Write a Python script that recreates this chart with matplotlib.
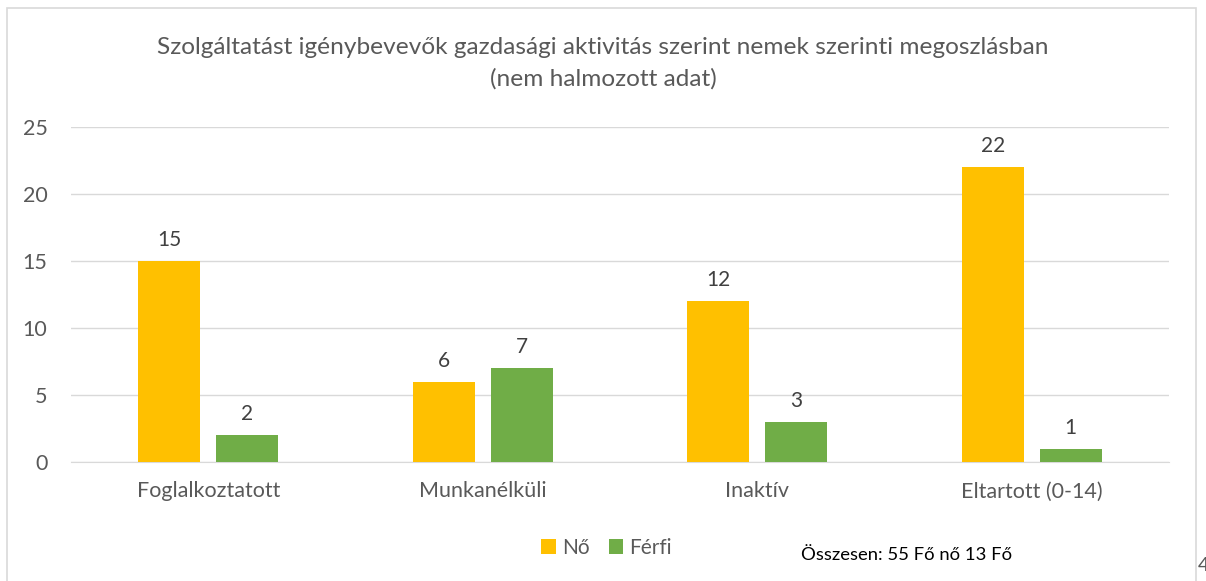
import numpy as np
import matplotlib.pyplot as plt
from matplotlib.patches import Rectangle

categories = ['Foglalkoztatott', 'Munkanélküli', 'Inaktív', 'Eltartott (0-14)']
no_vals = [15, 6, 12, 22]
ferfi_vals = [2, 7, 3, 1]
yticks = [0, 5, 10, 15, 20, 25]

plt.rcParams['font.family'] = ['Lato', 'DejaVu Sans']
txt = '#595959'

fig = plt.figure(figsize=(12.06, 5.81), dpi=100)
ax = fig.add_axes([0.0589, 0.2048, 0.9104, 0.5766])

x = np.arange(len(categories))
w = 0.226
off = 0.142
b1 = ax.bar(x - off, no_vals, w, color='#FFC000', label='Nő', zorder=3)
b2 = ax.bar(x + off, ferfi_vals, w, color='#70AD47', label='Férfi', zorder=3)
for bars in (b1, b2):
    for b in bars:
        ax.text(b.get_x() + b.get_width() / 2, b.get_height() + 0.8, str(int(b.get_height())),
                ha='center', va='bottom', fontsize=15, color='#404040')

ax.set_xlim(-0.5, 3.5)
ax.set_ylim(0, 25)
ax.set_yticks(yticks)
ax.set_xticks(x)
ax.set_xticklabels(categories)
ax.grid(axis='y', color='#D9D9D9', linewidth=1, zorder=0)
for s in ['top', 'right', 'left']:
    ax.spines[s].set_visible(False)
ax.spines['bottom'].set_color('#D9D9D9')
ax.tick_params(axis='both', length=0, labelsize=15.5, colors=txt)
ax.tick_params(axis='x', pad=14)
ax.tick_params(axis='y', pad=17)

fig.text(0.5, 0.918, 'Szolgáltatást igénybevevők gazdasági aktivitás szerint nemek szerinti megoszlásban',
         ha='center', va='center', fontsize=17.6, color=txt)
fig.text(0.5, 0.864, '(nem halmozott adat)', ha='center', va='center', fontsize=17.6, color=txt)

fig.legend(loc='center', bbox_to_anchor=(0.503, 0.057), ncol=2, frameon=False, fontsize=15,
           handlelength=0.7, handleheight=0.7, handletextpad=0.3, columnspacing=0.9,
           labelcolor=txt)

fig.text(0.664, 0.044, 'Összesen: 55 Fő nő 13 Fő', ha='left', va='center', fontsize=13.3, color='black')

fig.patches.append(Rectangle((7 / 1206, -0.05), (1196 - 7) / 1206, 1.05 - 8 / 581, transform=fig.transFigure,
                             fill=False, edgecolor='#D9D9D9', linewidth=1.2))
fig.text(0.9935, 0.012, '4', ha='left', va='bottom', fontsize=14, color=txt)

fig.savefig('out.png', dpi=100)
